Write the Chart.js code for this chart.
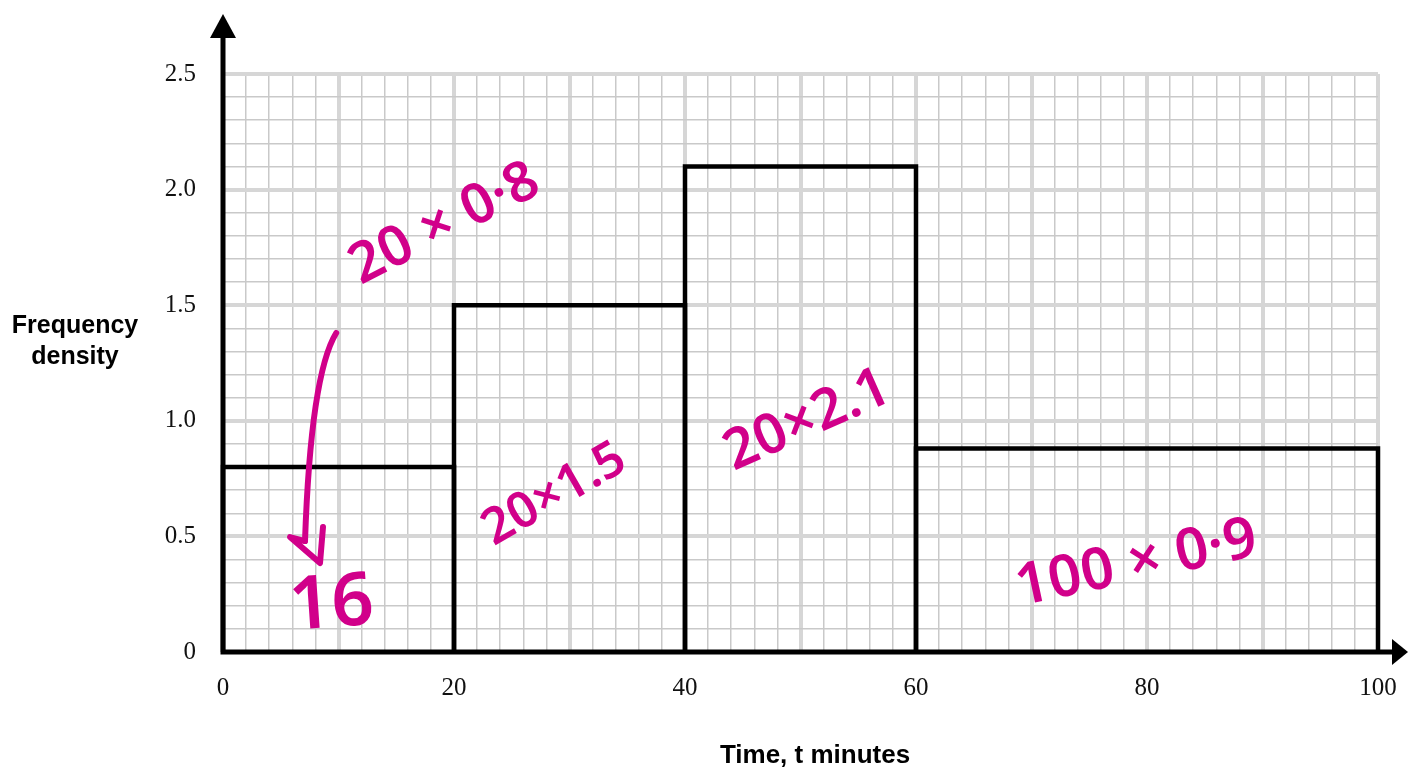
<!DOCTYPE html>
<html>
<head>
<meta charset="utf-8">
<script src="https://cdn.jsdelivr.net/npm/chart.js@4"></script>
<style>
  html, body { margin: 0; padding: 0; background: #fff; }
  #wrap { width: 1408px; height: 767px; }
</style>
</head>
<body>
<div id="wrap"><canvas id="histChart"></canvas></div>
<script>
// class intervals and frequency densities
const binStarts = [0, 20, 40, 60];
const binEnds = [20, 40, 60, 100];
const densities = [0.8, 1.5, 2.1, 0.88];

const xTickLabels = [0, 20, 40, 60, 80, 100];
const yTickLabels = [0, 0.5, 1.0, 1.5, 2.0, 2.5];

// handwritten working on top of the histogram (data coords)
const notes = [
  { text: "20 × 0·8", x: 19.2, y: 1.85, angle: -27, size: 56 },
  { text: "16", x: 9.4, y: 0.2, angle: -4, size: 74 },
  { text: "20×1.5", x: 28.7, y: 0.68, angle: -30, size: 50 },
  { text: "20×2.1", x: 50.6, y: 1.0, angle: -24, size: 56 },
  { text: "100 × 0·9", x: 79.1, y: 0.38, angle: -12, size: 58 }
];

const ink = "#d1008a";

const datasets = binStarts.map((lo, i) => ({
  data: [
    { x: lo, y: 0 },
    { x: lo, y: densities[i] },
    { x: binEnds[i], y: densities[i] },
    { x: binEnds[i], y: 0 }
  ],
  showLine: true,
  borderColor: "#000",
  borderWidth: 4.5,
  borderJoinStyle: "miter",
  pointRadius: 0,
  fill: false,
  tension: 0,
  clip: false
}));

const isMajorX = v => Math.round(v) % 10 === 0;
const isMajorY = v => Math.round(v * 10) % 5 === 0;

const drawExtras = {
  id: "drawExtras",
  afterDraw(chart) {
    const { ctx, chartArea: a, scales } = chart;
    const xs = scales.x, ys = scales.y;
    ctx.save();

    // axes with arrow heads
    ctx.strokeStyle = "#000";
    ctx.fillStyle = "#000";
    ctx.lineWidth = 5;
    ctx.lineCap = "butt";
    ctx.beginPath();
    ctx.moveTo(a.left, a.bottom + 2.5);
    ctx.lineTo(a.left, 36);
    ctx.moveTo(a.left - 2.5, a.bottom);
    ctx.lineTo(1392, a.bottom);
    ctx.stroke();
    ctx.beginPath();
    ctx.moveTo(a.left, 14);
    ctx.lineTo(a.left - 13, 38);
    ctx.lineTo(a.left + 13, 38);
    ctx.closePath();
    ctx.fill();
    ctx.beginPath();
    ctx.moveTo(1408, a.bottom);
    ctx.lineTo(1392, a.bottom - 13);
    ctx.lineTo(1392, a.bottom + 13);
    ctx.closePath();
    ctx.fill();

    // axis titles
    ctx.font = "bold 25px 'Liberation Sans', Arial, sans-serif";
    ctx.textAlign = "center";
    ctx.textBaseline = "middle";
    ctx.fillText("Frequency", 75, 326);
    ctx.fillText("density", 75, 357);
    ctx.font = "bold 26px 'Liberation Sans', Arial, sans-serif";
    ctx.fillText("Time, t minutes", 815, 756);

    // handwritten working
    ctx.fillStyle = ink;
    notes.forEach(n => {
      ctx.save();
      ctx.translate(xs.getPixelForValue(n.x), ys.getPixelForValue(n.y));
      ctx.rotate(n.angle * Math.PI / 180);
      ctx.font = "600 " + n.size + "px 'Noto Sans', sans-serif";
      ctx.fillText(n.text, 0, 0);
      ctx.restore();
    });

    // arrow from the working down to the answer
    ctx.strokeStyle = ink;
    ctx.lineWidth = 6;
    ctx.lineCap = "round";
    ctx.lineJoin = "round";
    const sx = xs.getPixelForValue(9.8), sy = ys.getPixelForValue(1.38);
    const cx = xs.getPixelForValue(7.6), cy = ys.getPixelForValue(1.2);
    const ex = xs.getPixelForValue(7.1), ey = ys.getPixelForValue(0.48);
    ctx.beginPath();
    ctx.moveTo(sx, sy);
    ctx.quadraticCurveTo(cx, cy, ex, ey);
    ctx.stroke();
    ctx.beginPath();
    ctx.moveTo(ex, ey);
    ctx.lineTo(ex - 15, ey - 4);
    ctx.lineTo(ex + 15, ey + 22);
    ctx.lineTo(ex + 18, ey - 14);
    ctx.stroke();

    ctx.restore();
  }
};

new Chart(document.getElementById("histChart"), {
  type: "scatter",
  data: { datasets },
  options: {
    responsive: true,
    maintainAspectRatio: false,
    animation: false,
    layout: { padding: { top: 74, right: 30, left: 0, bottom: 0 } },
    plugins: { legend: { display: false }, tooltip: { enabled: false } },
    scales: {
      x: {
        type: "linear",
        min: 0,
        max: 100,
        afterFit: s => { s.height = 115; s.paddingLeft = 0; s.paddingRight = 0; },
        border: { display: false },
        grid: {
          drawTicks: false,
          color: c => isMajorX(c.tick.value) ? "#d6d6d6" : "#c9c9c9",
          lineWidth: c => isMajorX(c.tick.value) ? 4 : 1.5
        },
        ticks: {
          stepSize: 2,
          autoSkip: false,
          maxRotation: 0,
          padding: 21,
          color: "#111",
          font: { family: "'Liberation Serif', 'Times New Roman', serif", size: 25 },
          callback: v => xTickLabels.includes(Math.round(v)) && Math.abs(v - Math.round(v)) < 1e-6 ? String(Math.round(v)) : ""
        }
      },
      y: {
        min: 0,
        max: 2.5,
        afterFit: s => { s.width = 223; },
        border: { display: false },
        grid: {
          drawTicks: false,
          color: c => isMajorY(c.tick.value) ? "#d6d6d6" : "#c9c9c9",
          lineWidth: c => isMajorY(c.tick.value) ? 4 : 1.5
        },
        ticks: {
          stepSize: 0.1,
          autoSkip: false,
          padding: 27,
          color: "#111",
          font: { family: "'Liberation Serif', 'Times New Roman', serif", size: 25 },
          callback: v => {
            const t = yTickLabels.find(l => Math.abs(l - v) < 1e-6);
            if (t === undefined) return "";
            return t === 0 ? "0" : t.toFixed(1);
          }
        }
      }
    }
  },
  plugins: [drawExtras]
});
</script>
</body>
</html>
